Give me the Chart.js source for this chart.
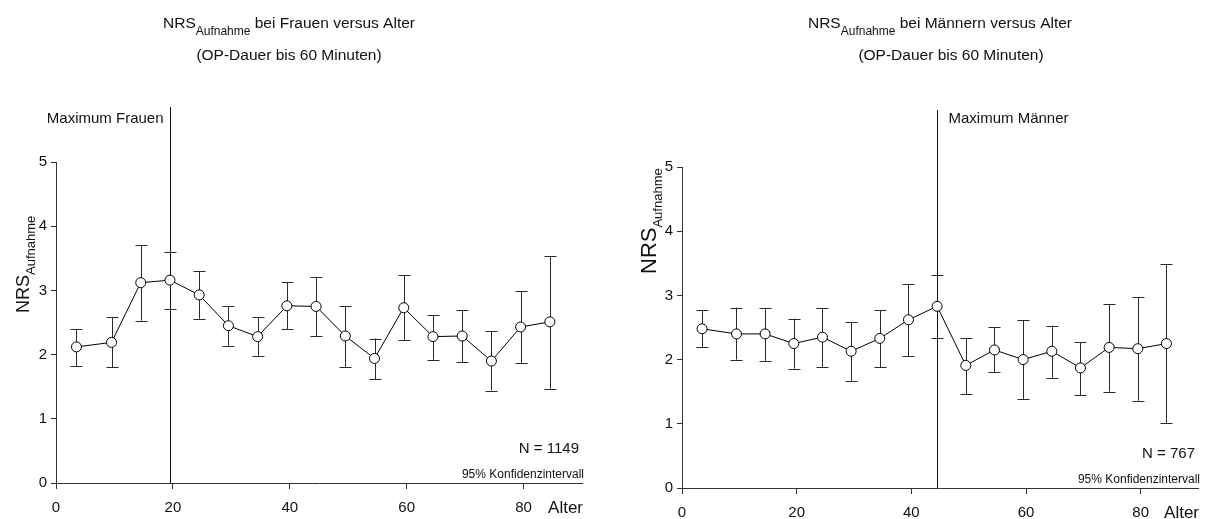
<!DOCTYPE html>
<html>
<head>
<meta charset="utf-8">
<script src="https://cdn.jsdelivr.net/npm/chart.js@4.4.1/dist/chart.umd.min.js"></script>
<style>
  html, body { margin: 0; padding: 0; background: #fff; }
  .wrap { position: relative; width: 1208px; height: 519px; }
  .pane { position: absolute; top: 0; width: 604px; height: 519px; }
  #left { left: 0; }
  #right { left: 604px; }
</style>
</head>
<body>
<div class="wrap">
  <div class="pane" id="left"><canvas id="chartFrauen" width="604" height="519"></canvas></div>
  <div class="pane" id="right"><canvas id="chartMaenner" width="604" height="519"></canvas></div>
</div>
<script>
// Altersklassen (Klassenmitte in Jahren)
const ages = [3.5, 9.5, 14.5, 19.5, 24.5, 29.5, 34.5, 39.5, 44.5, 49.5, 54.5, 59.5, 64.5, 69.5, 74.5, 79.5, 84.5];

// Frauen: Mittelwert und 95%-Konfidenzintervall
const frauenMean = [2.12, 2.19, 3.12, 3.16, 2.93, 2.45, 2.28, 2.76, 2.75, 2.29, 1.94, 2.73, 2.28, 2.29, 1.90, 2.43, 2.51];
const frauenLow  = [1.82, 1.80, 2.53, 2.71, 2.56, 2.14, 1.98, 2.40, 2.29, 1.80, 1.62, 2.23, 1.92, 1.88, 1.44, 1.87, 1.47];
const frauenHigh = [2.40, 2.58, 3.70, 3.60, 3.30, 2.75, 2.58, 3.13, 3.21, 2.76, 2.25, 3.24, 2.62, 2.69, 2.36, 2.99, 3.53];

// Männer: Mittelwert und 95%-Konfidenzintervall
const maennerMean = [2.48, 2.40, 2.40, 2.25, 2.35, 2.13, 2.33, 2.62, 2.83, 1.91, 2.15, 2.00, 2.13, 1.87, 2.19, 2.17, 2.25];
const maennerLow  = [2.19, 2.00, 1.98, 1.86, 1.88, 1.67, 1.88, 2.05, 2.33, 1.46, 1.80, 1.39, 1.72, 1.45, 1.50, 1.36, 1.01];
const maennerHigh = [2.77, 2.81, 2.81, 2.64, 2.80, 2.59, 2.77, 3.18, 3.32, 2.33, 2.51, 2.61, 2.53, 2.27, 2.86, 2.97, 3.49];

const xTicks = [0, 20, 40, 60, 80];
const yTicks = [0, 1, 2, 3, 4, 5];

const FONT = '"Liberation Sans", Arial, Helvetica, sans-serif';
const INK = '#111';
const AXIS = '#333';

function font(size) {
    return size + 'px ' + FONT;
}

// draws a row of text pieces (e.g. NRS + lowered subscript) starting at x
function drawRuns(ctx, runs, x, y, align) {
    let total = 0;
    runs.forEach((r) => {
        ctx.font = font(r.size);
        r.w = ctx.measureText(r.text).width;
        total += r.w;
    });
    let cx = align === 'center' ? x - total / 2 : align === 'right' ? x - total : x;
    ctx.textAlign = 'left';
    ctx.textBaseline = 'alphabetic';
    runs.forEach((r) => {
        ctx.font = font(r.size);
        ctx.fillText(r.text, cx, y + (r.dy || 0));
        cx += r.w;
    });
}

const decoPlugin = {
    id: 'nrsDeco',
    beforeDatasetsDraw(chart, args, opts) {
        const { ctx, scales } = chart;
        const x = scales.x;
        const y = scales.y;

        // Konfidenzintervalle
        ctx.save();
        ctx.strokeStyle = '#2a2a2a';
        ctx.lineWidth = 1;
        opts.mean.forEach((m, i) => {
            const px = Math.round(x.getPixelForValue(ages[i])) + 0.5;
            const top = y.getPixelForValue(opts.high[i]);
            const bot = y.getPixelForValue(opts.low[i]);
            ctx.beginPath();
            ctx.moveTo(px, top);
            ctx.lineTo(px, bot);
            ctx.moveTo(px - 6, Math.round(top) + 0.5);
            ctx.lineTo(px + 6, Math.round(top) + 0.5);
            ctx.moveTo(px - 6, Math.round(bot) + 0.5);
            ctx.lineTo(px + 6, Math.round(bot) + 0.5);
            ctx.stroke();
        });

        // Linie am Maximum
        const iMax = opts.mean.indexOf(Math.max(...opts.mean));
        const mx = Math.round(x.getPixelForValue(ages[iMax])) + 0.5;
        ctx.strokeStyle = '#111';
        ctx.beginPath();
        ctx.moveTo(mx, opts.maxTop);
        ctx.lineTo(mx, y.getPixelForValue(0));
        ctx.stroke();

        ctx.fillStyle = INK;
        if (opts.maxSide === 'left') {
            drawRuns(ctx, [{ text: opts.maxLabel, size: 15 }], mx - 7, opts.maxBase, 'right');
        } else {
            drawRuns(ctx, [{ text: opts.maxLabel, size: 15 }], mx + 11, opts.maxBase, 'left');
        }
        ctx.restore();
    },
    afterDraw(chart, args, opts) {
        const { ctx, chartArea } = chart;
        ctx.save();
        ctx.fillStyle = INK;

        // Titel
        drawRuns(ctx, [
            { text: 'NRS', size: 15.5 },
            { text: 'Aufnahme', size: 12, dy: 7 },
            { text: ' ' + opts.title, size: 15.5 },
        ], opts.titleX, 28, 'center');
        drawRuns(ctx, [{ text: '(OP-Dauer bis 60 Minuten)', size: 15.5 }], opts.subtitleX, 60, 'center');

        // y-Achsentitel
        ctx.save();
        ctx.translate(opts.yTitleX, opts.yTitleY);
        ctx.rotate(-Math.PI / 2);
        drawRuns(ctx, [
            { text: 'NRS', size: opts.yTitleSize },
            { text: 'Aufnahme', size: 13, dy: 6 },
        ], 0, 0, 'left');
        ctx.restore();

        // x-Achsentitel, Fallzahl, Hinweis
        drawRuns(ctx, [{ text: 'Alter', size: 17 }], chartArea.right + 1, chartArea.bottom + 30, 'right');
        drawRuns(ctx, [{ text: 'N = ' + opts.n, size: 15 }], chartArea.right - 3, chartArea.bottom - 30, 'right');
        drawRuns(ctx, [{ text: '95% Konfidenzintervall', size: 12 }], chartArea.right + 2, chartArea.bottom - 5, 'right');
        ctx.restore();
    },
};

function buildChart(canvas, mean, low, high, deco, layout) {
    return new Chart(canvas, {
        type: 'scatter',
        data: {
            datasets: [{
                data: ages.map((a, i) => ({ x: a, y: mean[i] })),
                showLine: true,
                borderColor: '#000',
                borderWidth: 1,
                pointRadius: 5,
                pointBackgroundColor: '#fff',
                pointBorderColor: '#000',
                pointBorderWidth: 1,
            }],
        },
        options: {
            responsive: false,
            animation: false,
            events: [],
            layout: { padding: layout.padding },
            plugins: {
                legend: { display: false },
                tooltip: { enabled: false },
                nrsDeco: Object.assign({ mean, low, high }, deco),
            },
            scales: {
                x: {
                    type: 'linear',
                    min: 0,
                    max: 90,
                    afterBuildTicks: (s) => { s.ticks = xTicks.map((v) => ({ value: v })); },
                    afterFit: (s) => { s.height = layout.xHeight; },
                    grid: { drawOnChartArea: false, drawTicks: true, tickLength: 6, color: AXIS },
                    border: { color: AXIS, width: 1 },
                    ticks: { color: INK, font: { family: FONT, size: 15 }, padding: 10, maxRotation: 0 },
                },
                y: {
                    min: 0,
                    max: 5,
                    afterBuildTicks: (s) => { s.ticks = yTicks.map((v) => ({ value: v })); },
                    afterFit: (s) => { s.width = layout.yWidth; },
                    grid: { drawOnChartArea: false, drawTicks: true, tickLength: 5, color: AXIS },
                    border: { color: AXIS, width: 1 },
                    ticks: { color: INK, font: { family: FONT, size: 15 }, padding: 4 },
                },
            },
        },
        plugins: [decoPlugin],
    });
}

buildChart(document.getElementById('chartFrauen'), frauenMean, frauenLow, frauenHigh, {
    title: 'bei Frauen versus Alter',
    titleX: 289,
    subtitleX: 289,
    n: 1149,
    maxLabel: 'Maximum Frauen',
    maxSide: 'left',
    maxTop: 107,
    maxBase: 123,
    yTitleX: 29,
    yTitleY: 313,
    yTitleSize: 18,
}, { padding: { left: 0, top: 162, right: 22, bottom: 0 }, yWidth: 56, xHeight: 36 });

buildChart(document.getElementById('chartMaenner'), maennerMean, maennerLow, maennerHigh, {
    title: 'bei Männern versus Alter',
    titleX: 336,
    subtitleX: 347,
    n: 767,
    maxLabel: 'Maximum Männer',
    maxSide: 'right',
    maxTop: 110,
    maxBase: 123,
    yTitleX: 52,
    yTitleY: 274,
    yTitleSize: 22,
}, { padding: { left: 0, top: 167, right: 10, bottom: 0 }, yWidth: 78, xHeight: 31 });
</script>
</body>
</html>
